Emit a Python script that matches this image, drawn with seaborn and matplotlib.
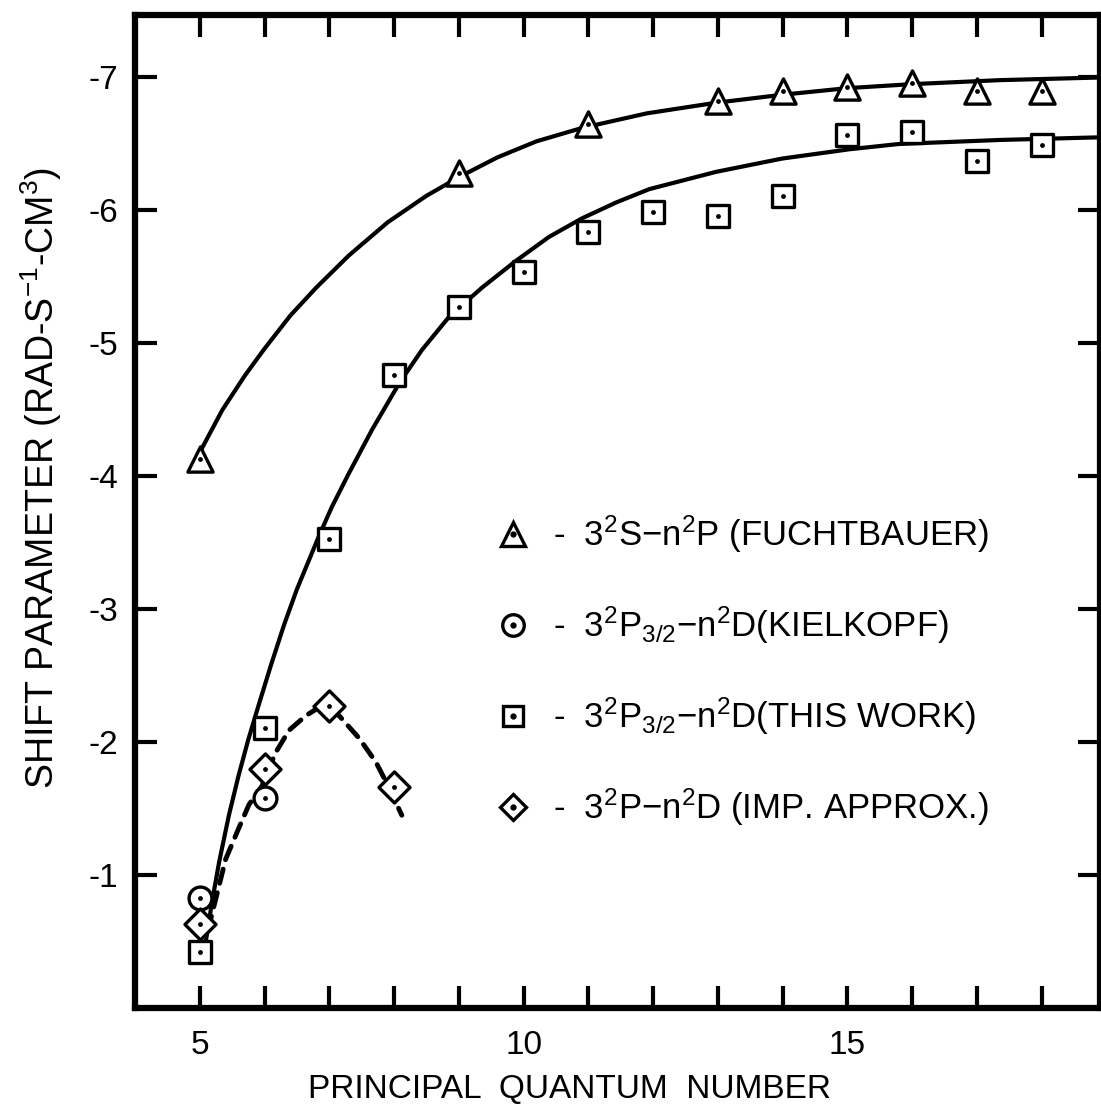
import matplotlib
matplotlib.use("Agg")
import matplotlib.pyplot as plt
from matplotlib.lines import Line2D
from matplotlib.legend_handler import HandlerTuple
import seaborn as sns

# ---- data ----
n_fucht = [5, 9, 11, 13, 14, 15, 16, 17, 18]
shift_fucht = [-4.13, -6.28, -6.65, -6.82, -6.90, -6.93, -6.96, -6.90, -6.90]

n_kiel = [5, 6]
shift_kiel = [-0.83, -1.58]

n_this = [5, 6, 7, 8, 9, 10, 11, 12, 13, 14, 15, 16, 17, 18]
shift_this = [-0.42, -2.11, -3.53, -4.76, -5.27, -5.54, -5.84, -5.99, -5.96,
              -6.11, -6.57, -6.59, -6.37, -6.49]

n_imp = [5, 6, 7, 8]
shift_imp = [-0.63, -1.80, -2.27, -1.66]

# hand-drawn curves
curve_s_n = [5.0, 5.35, 5.7, 6.0, 6.4, 6.8, 7.3, 7.9, 8.5, 9.0, 9.6, 10.2, 10.9,
             11.9, 12.97, 13.99, 15.0, 16.0, 17.35, 18.9]
curve_s_v = [-4.18, -4.50, -4.76, -4.96, -5.21, -5.42, -5.66, -5.91, -6.11, -6.25,
             -6.40, -6.52, -6.62, -6.73, -6.81, -6.87, -6.92, -6.95, -6.98, -7.00]

curve_p_n = [5.09, 5.19, 5.30, 5.45, 5.6, 5.75, 5.91, 6.1, 6.3, 6.5, 6.84, 7.04,
             7.3, 7.66, 8.08, 8.43, 8.85, 9.36, 9.88, 10.39, 10.9, 11.43, 11.94,
             12.97, 13.99, 15.03, 15.80, 17.35, 18.9]
curve_p_v = [-0.49, -0.80, -1.10, -1.45, -1.75, -2.02, -2.28, -2.58, -2.88, -3.15,
             -3.55, -3.77, -4.02, -4.35, -4.70, -4.95, -5.20, -5.42, -5.62, -5.80,
             -5.94, -6.06, -6.16, -6.29, -6.39, -6.46, -6.50, -6.53, -6.55]

curve_imp_n = [5.09, 5.17, 5.40, 5.60, 5.76, 5.96, 6.17, 6.38, 6.64, 6.87, 7.15,
               7.46, 7.72, 7.92, 8.12]
curve_imp_v = [-0.59, -0.67, -1.12, -1.35, -1.53, -1.67, -1.92, -2.09, -2.20, -2.27,
               -2.20, -2.03, -1.85, -1.66, -1.45]

x_ticks = list(range(5, 19))
x_ticklabels = ["5" if t == 5 else "10" if t == 10 else "15" if t == 15 else "" for t in x_ticks]
y_ticks = [-1, -2, -3, -4, -5, -6, -7]
y_ticklabels = ["-1", "-2", "-3", "-4", "-5", "-6", "-7"]

labels = [
    r"-  3$^2$S$-$n$^2$P (FUCHTBAUER)",
    r"-  3$^2$P$_{3/2}$$-$n$^2$D(KIELKOPF)",
    r"-  3$^2$P$_{3/2}$$-$n$^2$D(THIS WORK)",
    r"-  3$^2$P$-$n$^2$D (IMP. APPROX.)",
]

# ---- style ----
sns.set_style("ticks")
FONT = ["Liberation Sans", "DejaVu Sans"]
plt.rcParams["font.family"] = FONT
plt.rcParams["mathtext.fontset"] = "custom"
plt.rcParams["mathtext.rm"] = "Liberation Sans"
plt.rcParams["mathtext.it"] = "Liberation Sans"
plt.rcParams["mathtext.bf"] = "Liberation Sans:bold"
plt.rcParams["mathtext.default"] = "rm"
for key in ["axes.edgecolor", "xtick.color", "ytick.color", "text.color",
            "axes.labelcolor", "xtick.labelcolor", "ytick.labelcolor"]:
    plt.rcParams[key] = "black"

fig = plt.figure(figsize=(11.01, 11.12), dpi=100)
ax = fig.add_axes([0.1226, 0.0935, 0.8765, 0.893])

LW = 3.0
sns.lineplot(x=curve_s_n, y=curve_s_v, sort=False, estimator=None, color="black",
             linewidth=LW, ax=ax, zorder=2)
sns.lineplot(x=curve_p_n, y=curve_p_v, sort=False, estimator=None, color="black",
             linewidth=LW, ax=ax, zorder=2)
sns.lineplot(x=curve_imp_n, y=curve_imp_v, sort=False, estimator=None, color="black",
             linewidth=3.5, ax=ax, zorder=2)
ax.lines[-1].set_dashes([3.0, 2.0])
ax.lines[-1].set_dash_capstyle("round")
for ln in ax.lines:
    ln.set_solid_joinstyle("round")

MEW = 2.4
series = [
    (n_fucht, shift_fucht, "^", 330),
    (n_kiel, shift_kiel, "o", 270),
    (n_this, shift_this, "s", 240),
    (n_imp, shift_imp, "D", 250),
]
for xs, ys, mk, s in series:
    sns.scatterplot(x=xs, y=ys, marker=mk, s=s, facecolor="white", edgecolor="black",
                    linewidth=MEW, ax=ax, zorder=4)
    sns.scatterplot(x=xs, y=ys, marker="o", s=12, color="black", linewidth=0,
                    ax=ax, zorder=5)

ax.set_xlim(4.0, 18.9)
ax.set_ylim(0.0, -7.47)

ax.set_xticks(x_ticks)
ax.set_xticklabels(x_ticklabels)
ax.set_yticks(y_ticks)
ax.set_yticklabels(y_ticklabels)
ax.tick_params(axis="both", which="major", direction="in", length=16, width=3,
               top=True, right=True, labelsize=24, pad=12)
ax.tick_params(axis="x", pad=16)
for sp in ax.spines.values():
    sp.set_linewidth(4.5)
    sp.set_visible(True)

ax.set_xlabel("PRINCIPAL  QUANTUM  NUMBER", fontsize=24)
ax.xaxis.set_label_coords(0.45, -0.066)
ax.set_ylabel(r"SHIFT PARAMETER (RAD-S$^{-1}$-CM$^{3}$)", fontsize=27)
ax.yaxis.set_label_coords(-0.074, 0.534)

# legend
handles = []
for mk, ms in [("^", 17), ("o", 15.5), ("s", 14.5), ("D", 13.5)]:
    h1 = Line2D([], [], linestyle="none", marker=mk, markersize=ms,
                markerfacecolor="white", markeredgecolor="black", markeredgewidth=MEW)
    h2 = Line2D([], [], linestyle="none", marker="o", markersize=3.5, color="black")
    handles.append((h1, h2))
ax.legend(handles, labels, handler_map={tuple: HandlerTuple(ndivide=1)},
          loc="upper left", bbox_to_anchor=(0.339, 0.529), frameon=False,
          fontsize=25, labelspacing=1.42, handletextpad=0.58, handlelength=1.15)

fig.savefig("out.png", dpi=100, facecolor="white")
